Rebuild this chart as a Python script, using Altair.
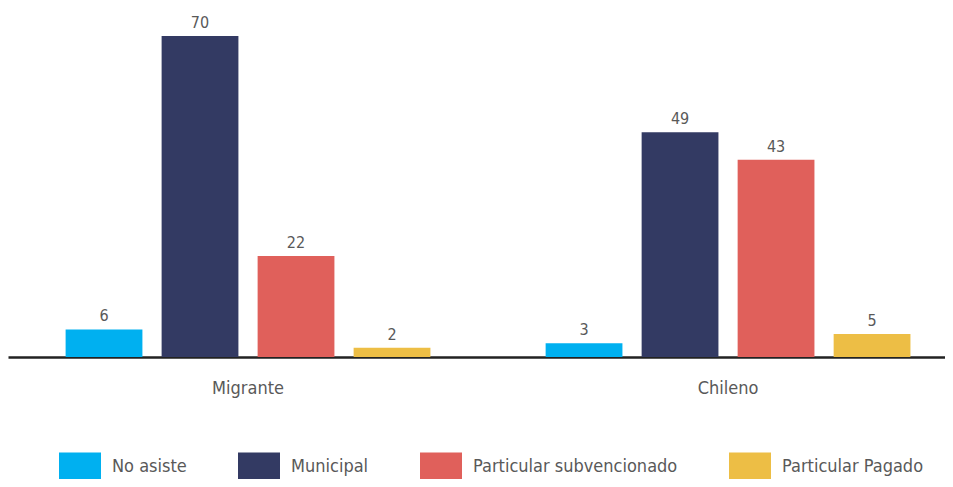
import altair as alt
import pandas as pd

groups = ["Migrante", "Chileno"]
categories = ["No asiste", "Municipal", "Particular subvencionado", "Particular Pagado"]
migrante = [6, 70, 22, 2]
chileno = [3, 49, 43, 5]
colors = ["#00B0F0", "#333A63", "#E0605B", "#EDBE45"]

rows = []
for g, vals in zip(groups, [migrante, chileno]):
    for c, v in zip(categories, vals):
        rows.append({"grupo": g, "tipo": c, "valor": v})
df = pd.DataFrame(rows)

FONT = "DejaVu Sans Condensed, DejaVu Sans, sans-serif"

base = alt.Chart(df).encode(
    x=alt.X("grupo:N", sort=groups, title=None,
            scale=alt.Scale(paddingInner=0.2, paddingOuter=0.076, align=0.658),
            axis=alt.Axis(labelAngle=0, labelFontSize=18, labelColor="#595959",
                          labelFont=FONT, labelPadding=22, ticks=False,
                          domainColor="#222222", domainWidth=2.5, grid=False)),
    xOffset=alt.XOffset("tipo:N", sort=categories,
                        scale=alt.Scale(paddingInner=0.2, paddingOuter=0.1)),
    y=alt.Y("valor:Q", axis=None, scale=alt.Scale(domain=[0, 75])),
)

bars = base.mark_bar().encode(
    color=alt.Color("tipo:N", sort=categories,
                    scale=alt.Scale(domain=categories, range=colors),
                    legend=alt.Legend(title=None, orient="none", legendX=51, legendY=433,
                                      direction="horizontal", columns=4,
                                      symbolType="M-1,-0.7H1V0.7H-1Z", symbolSize=1764,
                                      symbolStrokeWidth=0, symbolOpacity=1,
                                      labelFontSize=18, labelFont=FONT, labelColor="#595959",
                                      labelOffset=11, columnPadding=51, padding=0,
                                      labelLimit=400))
)

labels = base.mark_text(dy=-13, fontSize=16, font=FONT, color="#595959").encode(
    text=alt.Text("valor:Q")
)

chart = alt.layer(bars, labels).properties(
    width=937, height=344,
    autosize=alt.AutoSizeParams(type="none"),
    padding={"left": 0, "top": 5, "right": 0, "bottom": 122},
).configure_view(stroke=None)

chart.save("out.html", embed_options={"renderer": "svg", "actions": False})
